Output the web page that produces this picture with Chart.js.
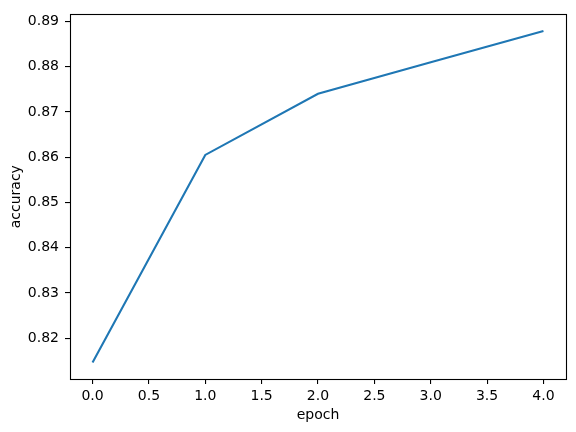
<!DOCTYPE html>
<html lang="en">
<head>
  <meta charset="UTF-8" />
  <title>accuracy vs epoch</title>
  <style>
    html, body { margin: 0; padding: 0; background: #fff; }
    canvas { display: block; }
  </style>
</head>
<body>
  <canvas id="accChart" width="576" height="432"></canvas>

  <script src="https://cdn.jsdelivr.net/npm/chart.js"></script>
  <script>
    // values
    const epochs = [0, 1, 2, 3, 4];
    const accuracy = [0.8146, 0.8605, 0.8740, 0.8810, 0.8879];
    const xTicks = [0, 0.5, 1, 1.5, 2, 2.5, 3, 3.5, 4];
    const yTicks = [0.82, 0.83, 0.84, 0.85, 0.86, 0.87, 0.88, 0.89];

    Chart.defaults.font.family = "'DejaVu Sans', sans-serif";
    Chart.defaults.font.size = 14;
    Chart.defaults.color = '#000';

    // matplotlib style box around the plot area
    const frame = {
      id: 'frame',
      afterDraw(chart) {
        const a = chart.chartArea;
        const ctx = chart.ctx;
        ctx.save();
        ctx.strokeStyle = '#000';
        ctx.lineWidth = 1.1;
        ctx.strokeRect(Math.round(a.left) + 0.5, Math.round(a.top) + 0.5,
          Math.round(a.right - a.left), Math.round(a.bottom - a.top));
        ctx.restore();
      }
    };

    const tickGrid = {
      drawOnChartArea: false,
      drawTicks: true,
      tickLength: 5,
      color: '#000',
      lineWidth: 1.1
    };

    new Chart(document.getElementById('accChart'), {
      type: 'line',
      data: {
        datasets: [{
          data: epochs.map((e, i) => ({ x: e, y: accuracy[i] })),
          borderColor: '#1f77b4',
          borderWidth: 2.1,
          pointRadius: 0,
          tension: 0,
          fill: false
        }]
      },
      options: {
        responsive: false,
        animation: false,
        layout: { padding: { left: 0, top: 9, right: 10, bottom: 0 } },
        plugins: {
          legend: { display: false },
          tooltip: { enabled: false }
        },
        scales: {
          x: {
            type: 'linear',
            min: -0.2,
            max: 4.2,
            afterBuildTicks(scale) { scale.ticks = xTicks.map(v => ({ value: v })); },
            afterFit(scale) { scale.height = 53; },
            grid: tickGrid,
            border: { display: false },
            ticks: {
              padding: 4,
              maxRotation: 0,
              autoSkip: false,
              callback: v => v.toFixed(1)
            },
            title: {
              display: true,
              text: 'epoch',
              padding: { top: 0, bottom: 8 }
            }
          },
          y: {
            type: 'linear',
            min: 0.81096,
            max: 0.89156,
            afterBuildTicks(scale) { scale.ticks = yTicks.map(v => ({ value: v })); },
            afterFit(scale) { scale.width = 70; },
            grid: tickGrid,
            border: { display: false },
            ticks: {
              padding: 6,
              autoSkip: false,
              callback: v => v.toFixed(2)
            },
            title: {
              display: true,
              text: 'accuracy',
              padding: { top: 8, bottom: 0 }
            }
          }
        }
      },
      plugins: [frame]
    });
  </script>
</body>
</html>
